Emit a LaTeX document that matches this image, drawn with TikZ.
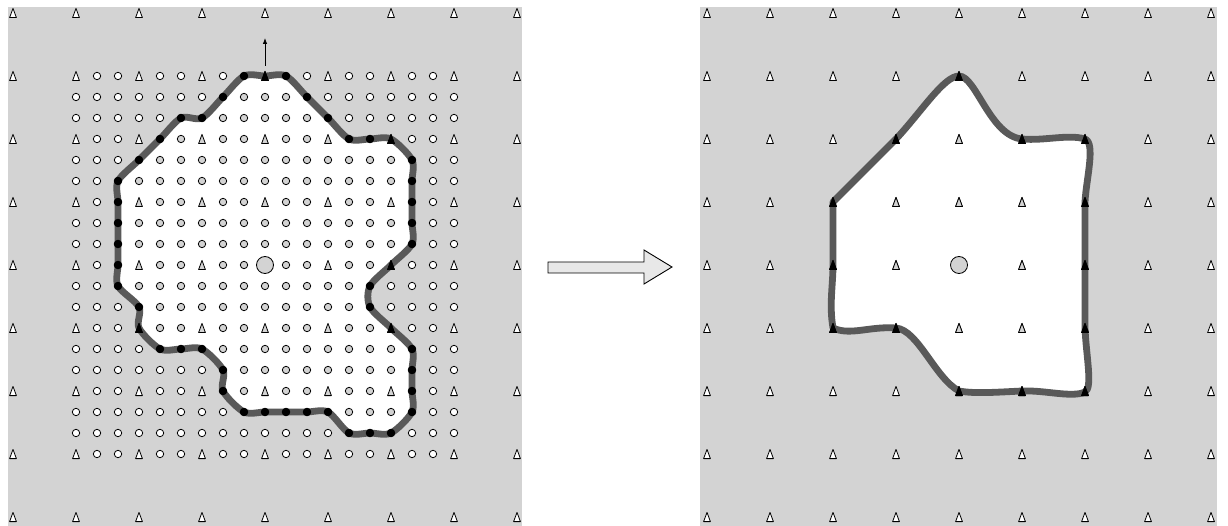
\documentclass[tikz,border=0pt]{standalone}
\usetikzlibrary{arrows.meta}
\definecolor{bg}{gray}{0.827}
\definecolor{curvec}{gray}{0.35}
\definecolor{arrowfill}{gray}{0.91}
\tikzset{
  mk/.style={line width=0.8pt, draw=black, line join=round},
  boundary/.style={draw=curvec, line width=6.8pt, fill=white, line join=round},
  bigarrow/.style={draw=black, line width=0.9pt, fill=arrowfill},
}
\newcommand\mytri[3]{\path[mk,fill=#3] ({#1-3.4},{#2+4.6}) -- ({#1},{#2-4.6}) -- ({#1+3.4},{#2+4.6}) -- cycle;}
\newcommand\mycirc[3]{\path[mk,fill=#3] (#1,#2) circle[radius=3.7];}
\begin{document}
\begin{tikzpicture}[x=1pt,y=-1pt]
\useasboundingbox (0,0) rectangle (1228,526);
% ---------------- left panel ----------------
\fill[bg] (8,7) rectangle (522,526);
\draw[boundary] plot[smooth cycle, tension=0.5] coordinates {
 (265,76) (286,76) (307,97) (328,118) (349,139) (370,139) (391,139)
 (412,160) (412,181) (412,202) (412,223) (412,244) (391,265) (370,286)
 (370,307) (391,328) (412,349) (412,370) (412,391) (412,412) (391,433)
 (370,433) (349,433) (328,412) (307,412) (286,412) (265,412) (244,412)
 (223,391) (223,370) (202,349) (181,349) (160,349) (139,328) (139,307)
 (118,286) (118,265) (118,244) (118,223) (118,202) (118,181) (139,160)
 (160,139) (181,118) (202,118) (223,97) (244,76)};
% coarse outer triangles
\foreach \k in {0,...,8}{
  \pgfmathsetmacro\c{13+63*\k}
  \mytri{13}{\c}{white}
  \mytri{517}{\c}{white}
}
\foreach \k in {1,...,7}{
  \pgfmathsetmacro\c{13+63*\k}
  \mytri{\c}{13}{white}
  \mytri{\c}{517}{white}
}
% fine grid
\foreach \j/\lo/\hi in {0/99/-1, 1/8/10, 2/7/11, 3/5/12, 4/4/15, 5/3/15, 6/3/15,
  7/3/15, 8/3/15, 9/3/14, 10/3/13, 11/4/13, 12/4/14, 13/7/15, 14/8/15, 15/8/15,
  16/13/15, 17/99/-1, 18/99/-1}{
  \foreach \i in {0,...,18}{
    \pgfmathsetmacro\px{76+21*\i}
    \pgfmathsetmacro\py{76+21*\j}
    \pgfmathtruncatemacro\istri{(mod(\i,3)==0)*(mod(\j,3)==0)}
    \pgfmathtruncatemacro\iscen{(\i==9)*(\j==9)}
    \def\fc{white}
    \ifnum\i<\lo\else\ifnum\i>\hi\else\def\fc{bg}\fi\fi
    \ifnum\iscen=0
      \ifnum\istri=1 \mytri{\px}{\py}{\fc}\else\mycirc{\px}{\py}{\fc}\fi
    \fi
  }
}
% points on the boundary
\foreach \i/\j in {9/0,10/0,11/1,12/2,13/3,14/3,15/3,16/4,16/5,16/6,16/7,16/8,15/9,
  14/10,14/11,15/12,16/13,16/14,16/15,16/16,15/17,14/17,13/17,12/16,11/16,10/16,
  9/16,8/16,7/15,7/14,6/13,5/13,4/13,3/12,3/11,2/10,2/9,2/8,2/7,2/6,2/5,3/4,4/3,
  5/2,6/2,7/1,8/0}{
  \pgfmathsetmacro\px{76+21*\i}
  \pgfmathsetmacro\py{76+21*\j}
  \pgfmathtruncatemacro\istri{(mod(\i,3)==0)*(mod(\j,3)==0)}
  \ifnum\istri=1 \mytri{\px}{\py}{black}\else\mycirc{\px}{\py}{black}\fi
}
\node[mk, circle, fill=bg, minimum size=17pt, inner sep=0pt] (cl) at (265,265) {};
\coordinate (top) at (265,66);
\coordinate (toptip) at (265,38);
\draw[line width=0.8pt, -{Latex[length=6pt,width=4.5pt]}] (top) -- (toptip);
% ---------------- arrow ----------------
\draw[bigarrow] (548,262) -- (644,262) -- (644,250) -- (672,267) -- (644,284)
  -- (644,273) -- (548,273) -- cycle;
% ---------------- right panel ----------------
\fill[bg] (700,7) rectangle (1217,526);
\draw[boundary] (833,328)
  .. controls (829,305) and (833,285) .. (833,265)
  -- (833,202)
  -- (896,139)
  .. controls (922,111) and (944,76) .. (959,76)
  .. controls (976,76) and (990,136) .. (1022,139)
  .. controls (1045,141) and (1068,134) .. (1085,139)
  .. controls (1096,143) and (1086,180) .. (1085,202)
  -- (1085,328)
  .. controls (1086,355) and (1093,388) .. (1085,392)
  .. controls (1072,398) and (1045,390) .. (1022,391)
  .. controls (1000,392) and (975,394) .. (959,391)
  .. controls (935,378) and (918,330) .. (896,328)
  .. controls (870,326) and (850,336) .. (833,328)
  -- cycle;
\foreach \a in {0,...,8}{
  \foreach \b in {0,...,8}{
    \pgfmathsetmacro\px{707+63*\a}
    \pgfmathsetmacro\py{13+63*\b}
    \pgfmathtruncatemacro\iscen{(\a==4)*(\b==4)}
    \ifnum\iscen=0 \mytri{\px}{\py}{white}\fi
  }
}
\foreach \a/\b in {4/2,3/3,4/3,5/3,3/4,5/4,4/5,5/5}{
  \pgfmathsetmacro\px{707+63*\a}
  \pgfmathsetmacro\py{13+63*\b}
  \mytri{\px}{\py}{bg}
}
\foreach \a/\b in {4/1,5/2,6/2,6/3,6/4,6/5,6/6,5/6,4/6,3/5,2/5,2/4,2/3,3/2}{
  \pgfmathsetmacro\px{707+63*\a}
  \pgfmathsetmacro\py{13+63*\b}
  \mytri{\px}{\py}{black}
}
\node[mk, circle, fill=bg, minimum size=17pt, inner sep=0pt] (cr) at (959,265) {};
\end{tikzpicture}
\end{document}
